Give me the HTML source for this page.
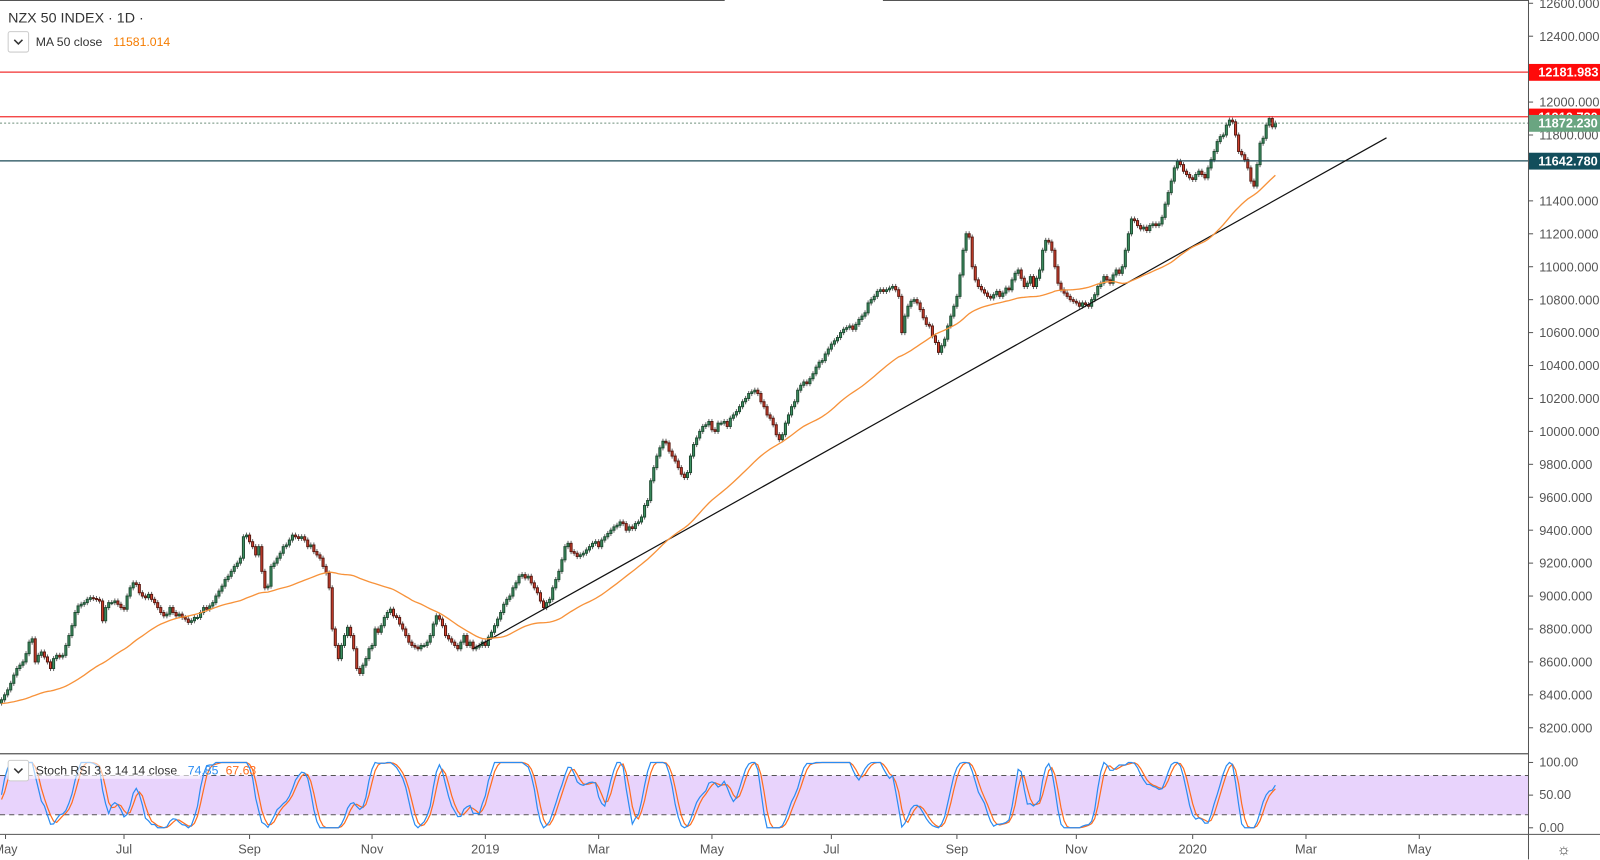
<!DOCTYPE html>
<html><head><meta charset="utf-8"><title>NZX 50 INDEX</title>
<style>
html,body{margin:0;padding:0;background:#fff;}
body{width:1600px;height:860px;overflow:hidden;font-family:"Liberation Sans",sans-serif;position:relative;}
svg{position:absolute;left:0;top:0;}
text{font-family:"Liberation Sans",sans-serif;}
</style></head>
<body>
<svg id="chart" width="1600" height="860" xmlns="http://www.w3.org/2000/svg">
<g transform="scale(1.0207)">
<g id="grid"></g>
<g id="stochBg"></g>
<g id="candles"></g>
<g id="overlay"></g>
<g id="axes"></g>
</g>
</svg>
<script>
const priorCloses=[8300,8320,8290,8340,8360,8330,8380,8400,8370,8350,8310,8290,8330,8360,8390,8420,8400,8380,8350,8330,8300,8280,8310,8340,8370,8360,8330,8300,8320,8350,8380,8410,8390,8360,8340,8320,8300,8330,8360,8390,8370,8340,8320,8350,8380,8360,8340,8330,8350];
const closes=[8370,8400,8430,8470,8520,8560,8580,8600,8650,8720,
8740,8600,8640,8660,8630,8600,8560,8620,8640,8630,
8640,8700,8760,8820,8900,8940,8950,8960,8980,8990,
8985,8980,8970,8850,8930,8960,8960,8970,8950,8930,
8920,9000,9050,9080,9070,9020,9000,8990,9010,8980,
8960,8930,8900,8880,8890,8930,8900,8880,8890,8870,
8860,8840,8850,8870,8870,8900,8930,8920,8940,8960,
9000,9030,9060,9100,9120,9150,9180,9200,9230,9360,
9370,9330,9300,9250,9300,9150,9050,9060,9180,9200,
9230,9260,9300,9310,9340,9370,9360,9350,9360,9340,
9300,9310,9270,9250,9230,9180,9140,9050,8800,8700,
8620,8700,8760,8810,8760,8680,8560,8530,8580,8620,
8680,8700,8800,8780,8820,8870,8900,8920,8880,8870,
8830,8800,8760,8720,8700,8690,8680,8700,8700,8720,
8760,8830,8880,8860,8820,8760,8740,8720,8700,8680,
8720,8760,8700,8720,8680,8690,8700,8720,8700,8750,
8780,8820,8860,8900,8950,8980,9000,9050,9080,9120,
9130,9110,9120,9080,9050,9020,8970,8930,8960,8980,
9050,9100,9150,9220,9300,9320,9270,9260,9240,9250,
9260,9280,9300,9320,9330,9300,9340,9360,9380,9400,
9420,9430,9450,9440,9400,9420,9410,9440,9450,9480,
9550,9580,9700,9780,9850,9900,9940,9930,9880,9850,
9820,9780,9740,9720,9750,9850,9920,9960,10000,10030,
10040,10060,10010,10000,10050,10050,10060,10030,10080,10100,
10120,10150,10180,10200,10230,10240,10250,10230,10180,10150,
10100,10080,10040,9980,9950,9980,10050,10100,10150,10180,
10250,10280,10300,10290,10320,10350,10390,10420,10430,10470,
10500,10530,10550,10570,10600,10620,10630,10640,10620,10650,
10680,10700,10720,10780,10800,10820,10850,10860,10850,10860,
10870,10880,10860,10820,10600,10700,10760,10790,10800,10780,
10740,10690,10650,10640,10580,10540,10480,10520,10560,10640,
10700,10760,10820,10950,11100,11200,11180,11000,10920,10880,
10860,10840,10820,10810,10830,10850,10820,10840,10870,10860,
10920,10960,10980,10930,10880,10900,10940,10880,10930,10980,
11100,11160,11150,11100,11000,10900,10860,10840,10820,10800,
10790,10780,10760,10780,10770,10760,10800,10830,10880,10900,
10940,10920,10900,10950,10980,10960,11000,11100,11200,11290,
11280,11250,11230,11240,11220,11250,11260,11250,11260,11300,
11380,11450,11520,11600,11640,11620,11580,11560,11540,11530,
11560,11580,11560,11540,11600,11650,11700,11760,11790,11800,
11860,11890,11880,11800,11700,11680,11650,11600,11520,11490,
11620,11750,11780,11860,11900,11850,11872];
const priceTicks=[12600,12400,12200,12000,11800,11600,11400,11200,11000,10800,10600,10400,10200,10000,9800,9600,9400,9200,9000,8800,8600,8400,8200];
const hLevels=[12181.983,11910.730,11642.780];
const lastPrice=11872.230;
const trendIdx=[154,452.3];
const trendPrice=[8680,11783];
const monthLabels=["May","Jul","Sep","Nov","2019","Mar","May","Jul","Sep","Nov","2020","Mar","May"];
const monthIdx=[1.3,40,81,121,158,195,232,271,312,351,389,426,463];
const stochTicks=[100,50,0];

const NS="http://www.w3.org/2000/svg";
function mk(tag,attrs,parent){const e=document.createElementNS(NS,tag);for(const k in attrs)e.setAttribute(k,attrs[k]);parent.appendChild(e);return e;}
const xOf=i=>1.5+i*3;
const yP=v=>100+(12000-v)*0.16132;
const yS=v=>811-v*0.64;
const g=document.getElementById('grid'),sb=document.getElementById('stochBg'),cg=document.getElementById('candles'),ov=document.getElementById('overlay'),ax=document.getElementById('axes');

let l=mk('line',{x1:0,y1:0.5,x2:710,y2:0.5,stroke:'#555','stroke-width':1},g);

l=mk('line',{x1:865,y1:0.5,x2:1497,y2:0.5,stroke:'#555','stroke-width':1},g);

l=mk('line',{x1:1497.5,y1:0,x2:1497.5,y2:842,stroke:'#555','stroke-width':1},ax);

l=mk('line',{x1:0,y1:738.5,x2:1497,y2:738.5,stroke:'#555','stroke-width':1.2},ax);

l=mk('line',{x1:0,y1:817.5,x2:1600,y2:817.5,stroke:'#555','stroke-width':1},ax);


priceTicks.forEach(v=>{
 const y=yP(v);
 const t=mk('line',{x1:1497,y1:y,x2:1502,y2:y,stroke:'#555'},ax);
 
 const tx=mk('text',{x:1508,y:y+4.5,'font-size':12.5,fill:'#555'},ax);
 tx.textContent=v.toFixed(3);
 
});

const lvColors=['#f23030','#f23030','#1b4a57'];
hLevels.forEach((v,k)=>{
 const y=yP(v);
 const ln=mk('line',{x1:0,y1:y,x2:1497,y2:y,stroke:lvColors[k],'stroke-width':1.2},ov);
 
});
l=mk('line',{x1:0,y1:yP(lastPrice),x2:1497,y2:yP(lastPrice),stroke:'#6d8f7b','stroke-width':1,'stroke-dasharray':'2,2'},ov);


l=mk('line',{x1:xOf(trendIdx[0]),y1:yP(trendPrice[0]),x2:xOf(trendIdx[1]),y2:yP(trendPrice[1]),stroke:'#111','stroke-width':1.2},ov);


const all=priorCloses.concat(closes),P=priorCloses.length;
let maPts=[];
for(let i=0;i<closes.length;i++){let s=0,n=0;for(let j=Math.max(0,P+i-49);j<=P+i;j++){s+=all[j];n++;}maPts.push(xOf(i).toFixed(1)+','+yP(s/n).toFixed(1));}
l=mk('polyline',{points:maPts.join(' '),fill:'none',stroke:'#f7923a','stroke-width':1.3},ov);


closes.forEach((c,i)=>{
 const o=i===0?all[P-1]:closes[i-1];
 const up=c>=o;const x=xOf(i);
 const yt=yP(Math.max(o,c)),yb=yP(Math.min(o,c));
 const w=mk('line',{x1:x,y1:yt-2.5,x2:x,y2:yb+2.5,stroke:'#666','stroke-width':1},cg);
 
 const r=mk('rect',{x:x-1,y:yt,width:2,height:Math.max(1,yb-yt),fill:up?'#3f9464':'#d9432f',stroke:up?'#1f4d33':'#5a1a12','stroke-width':1},cg);
 
});

function priceLabel(v,bg,name){const y=yP(v);
 const r=mk('rect',{x:1498,y:y-8,width:70,height:16.5,fill:bg},ax);
 
 const t=mk('text',{x:1507,y:y+4.5,'font-size':12.5,'font-weight':'bold',fill:'#fff'},ax);t.textContent=v.toFixed(3);
 }
l=mk('rect',{x:1498,y:yP(11600)-8,width:80,height:16,fill:'#fff'},ax);

priceLabel(hLevels[0],'#ff0a0a','level-label-high');
priceLabel(hLevels[1],'#ff0a0a','level-label-resistance');
priceLabel(lastPrice,'#6aa581','last-price-label');
priceLabel(hLevels[2],'#124e5c','level-label-support');

l=mk('rect',{x:0,y:yS(80),width:1497,height:yS(20)-yS(80),fill:'#e8d3fc'},sb);

[80,20].forEach(v=>{const d=mk('line',{x1:0,y1:yS(v),x2:1497,y2:yS(v),stroke:'#555','stroke-dasharray':'5,4'},sb);
 });
stochTicks.forEach(v=>{const t=mk('text',{x:1508,y:yS(v)+4,'font-size':12.5,fill:'#555'},ax);t.textContent=v.toFixed(2);
 
 const tk=mk('line',{x1:1497,y1:yS(v),x2:1502,y2:yS(v),stroke:'#555'},ax);
 });

const rsi=[];let ag=0,al=0;
for(let i=1;i<all.length;i++){const d=all[i]-all[i-1];const gn=Math.max(d,0),ls=Math.max(-d,0);
 if(i<=14){ag+=gn/14;al+=ls/14;}else{ag=(ag*13+gn)/14;al=(al*13+ls)/14;}
 rsi[i]=al===0?100:100-100/(1+ag/al);}
const st=[];for(let i=0;i<all.length;i++){if(i<28){st[i]=50;continue;}let mn=1e9,mx=-1e9;for(let j=i-13;j<=i;j++){mn=Math.min(mn,rsi[j]);mx=Math.max(mx,rsi[j]);}st[i]=mx===mn?50:(rsi[i]-mn)/(mx-mn)*100;}
const K=[],D=[];for(let i=0;i<all.length;i++){K[i]=i<2?st[i]:(st[i]+st[i-1]+st[i-2])/3;}
for(let i=0;i<all.length;i++){D[i]=i<2?K[i]:(K[i]+K[i-1]+K[i-2])/3;}
function stLine(arr,col,name){const pts=[];for(let i=0;i<closes.length;i++)pts.push(xOf(i).toFixed(1)+','+yS(arr[P+i]).toFixed(1));
 const p=mk('polyline',{points:pts.join(' '),fill:'none',stroke:col,'stroke-width':1.2},ov);}
stLine(D,'#ff6d1f','stoch-d-line');stLine(K,'#2b8cf2','stoch-k-line');

monthLabels.forEach((m,k)=>{const x=xOf(monthIdx[k]);
 const tk=mk('line',{x1:x,y1:818,x2:x,y2:822,stroke:'#555'},ax);
 const t=mk('text',{x:x,y:836,'font-size':12.5,fill:'#555','text-anchor':'middle'},ax);t.textContent=m;
 });

let t=mk('text',{x:8,y:22,'font-size':14,fill:'#333'},ax);t.textContent='NZX 50 INDEX · 1D ·';

function chevBox(x,y,name){const r=mk('rect',{x:x,y:y,width:20,height:20,rx:2,fill:'#fff',stroke:'#ccc'},ax);
 const p=mk('polyline',{points:(x+6)+','+(y+8)+' '+(x+10)+','+(y+12)+' '+(x+14)+','+(y+8),fill:'none',stroke:'#333','stroke-width':1.5},ax);}
chevBox(8,31,'ma-legend-toggle');
t=mk('text',{x:35,y:45,'font-size':12,fill:'#333'},ax);t.textContent='MA 50 close';
t=mk('text',{x:111,y:45,'font-size':12,fill:'#f57c00'},ax);t.textContent='11581.014';
l=mk('rect',{x:28,y:745,width:168,height:18,fill:'#fff',opacity:0.6},ax);
chevBox(8,745,'stoch-legend-toggle');
t=mk('text',{x:35,y:759,'font-size':12,fill:'#333'},ax);t.textContent='Stoch RSI 3 3 14 14 close';
t=mk('text',{x:184,y:759,'font-size':12,fill:'#2b8cf2'},ax);t.textContent='74.85';
t=mk('text',{x:221,y:759,'font-size':12,fill:'#ff6d1f'},ax);t.textContent='67.63';
t=mk('text',{x:1532,y:837,'font-size':15,fill:'#333','text-anchor':'middle'},ax);t.textContent='☼';
</script>
</body></html>
